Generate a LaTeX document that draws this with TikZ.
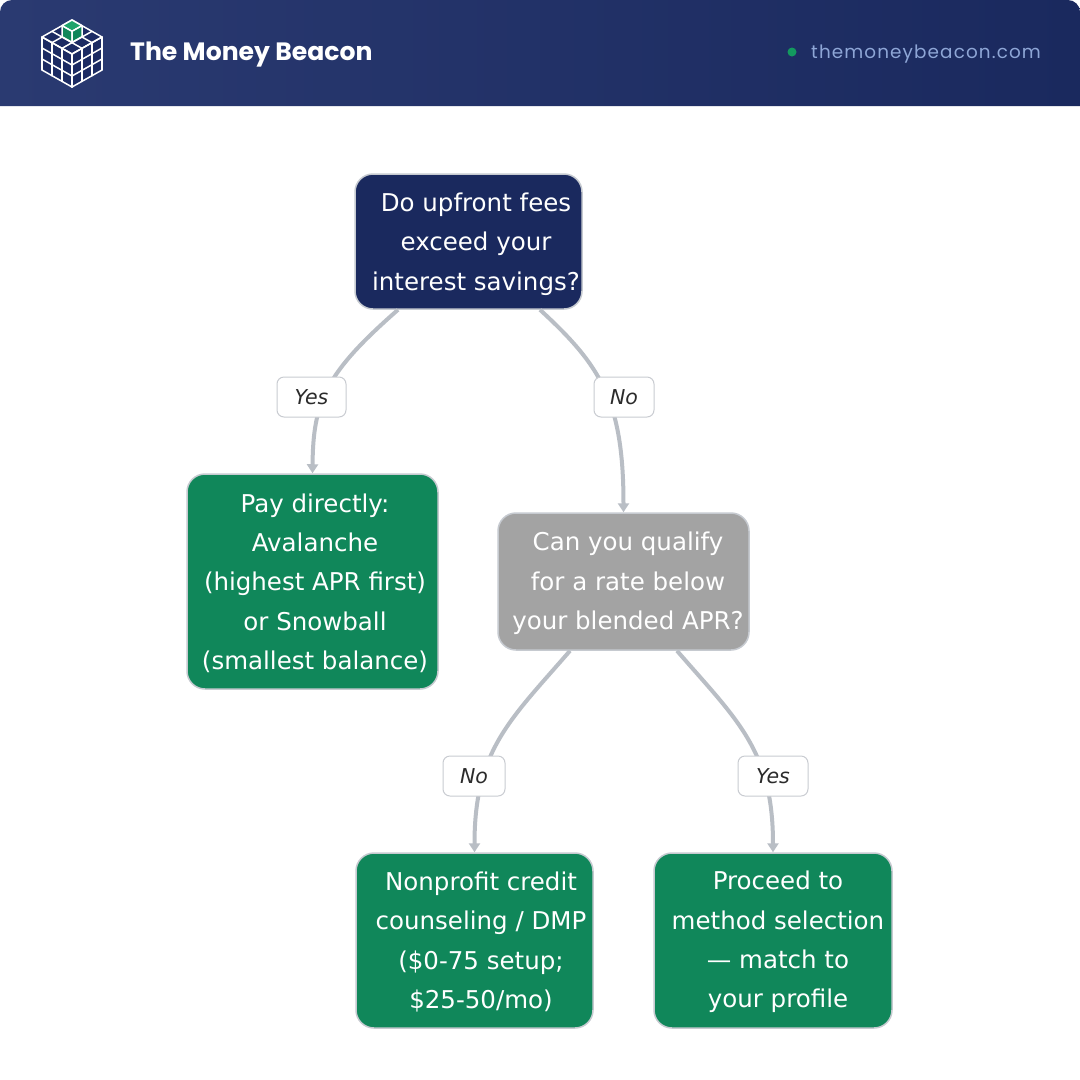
\documentclass[tikz,border=0pt]{standalone}
\usepackage{fontspec}
\setmainfont{DejaVu Sans}
\newfontfamily\titlefont{Poppins}
\newfontfamily\urlfont{Poppins}[LetterSpace=6]
\usetikzlibrary{arrows.meta,calc}
\definecolor{navy}{HTML}{1A295E}
\definecolor{navyL}{HTML}{2A3A71}
\definecolor{cubefill}{HTML}{1C2B63}
\definecolor{mgreen}{HTML}{10875A}
\definecolor{lgreen}{HTML}{1FA36B}
\definecolor{qgray}{HTML}{A3A3A3}
\definecolor{boxborder}{HTML}{C6CAD0}
\definecolor{conncol}{HTML}{B9BEC5}
\definecolor{lblborder}{HTML}{C9CCD1}
\definecolor{lbltext}{HTML}{2B2B2B}
\definecolor{urlcol}{HTML}{8EA6D6}
\definecolor{dotgreen}{HTML}{13995F}
\begin{document}
\begin{tikzpicture}[x=1pt,y=-1pt,
  box/.style={draw=boxborder, line width=1.5pt, rounded corners=18pt, inner sep=0pt},
  txt/.style={text=white, align=center, inner sep=0pt, font=\fontsize{24.5}{39.3}\selectfont},
  lbl/.style={draw=lblborder, fill=white, rounded corners=7pt, line width=1pt, minimum height=40pt, inner sep=0pt, text=lbltext, font=\itshape\fontsize{20.5}{24}\selectfont},
  conn/.style={draw=conncol, line width=4pt, -{Triangle[length=9pt,width=11pt]}},
  grid/.style={draw=white, line width=1.5pt, line cap=round, line join=round}
]
\useasboundingbox (0,0) rectangle (1080,1080);
\fill[white] (0,0) rectangle (1080,1080);

% header
\shade[left color=navyL, right color=navy, rounded corners=12pt] (0,106) -- (0,0) -- (1080,0) -- (1080,106);

% logo cube
\coordinate (T) at (72,20);
\coordinate (UL) at (42,37);
\coordinate (UR) at (102,37);
\coordinate (C) at (72,54);
\coordinate (LL) at (42,70);
\coordinate (LR) at (102,70);
\coordinate (B) at (72,87);
\fill[cubefill] (T) -- (UR) -- (LR) -- (B) -- (LL) -- (UL) -- cycle;
\foreach \i in {0,1,2,3}{
  \draw[grid] ($(T)+\i/3*(-30,17)$) -- ++(30,17);
  \draw[grid] ($(T)+\i/3*(30,17)$) -- ++(-30,17);
  \draw[grid] ($(UL)+\i/3*(30,17)$) -- ++(0,33);
  \draw[grid] ($(UL)+\i/3*(0,33)$) -- ++(30,17);
  \draw[grid] ($(C)+\i/3*(30,-17)$) -- ++(0,33);
  \draw[grid] ($(C)+\i/3*(0,33)$) -- ++(30,-17);
}
\filldraw[fill=lgreen, grid] (72,20) -- (62,25.67) -- (72,31.33) -- (82,25.67) -- cycle;
\filldraw[fill=mgreen, grid] (62,25.67) -- (72,31.33) -- (72,42.33) -- (62,36.67) -- cycle;
\filldraw[fill=mgreen, grid] (72,31.33) -- (82,25.67) -- (82,36.67) -- (72,42.33) -- cycle;

\node[anchor=base west, inner sep=0pt, text=white, font=\titlefont\bfseries\fontsize{25.1}{29}\selectfont] (title) at (130,60) {The Money Beacon};
\fill[dotgreen] (792,52) circle[radius=4.5];
\node[anchor=base west, inner sep=0pt, text=urlcol, font=\urlfont\fontsize{18.4}{22}\selectfont] (url) at (811,58) {themoneybeacon.com};

% boxes
\node[box, fill=navy, minimum width=227pt, minimum height=135pt] (q1) at (468.5,241.5) {};
\node[box, fill=mgreen, minimum width=251pt, minimum height=215pt] (pay) at (312.5,581.5) {};
\node[box, fill=qgray, minimum width=251pt, minimum height=137pt] (q2) at (623.5,581.5) {};
\node[box, fill=mgreen, minimum width=237pt, minimum height=175pt] (np) at (474.5,940.5) {};
\node[box, fill=mgreen, minimum width=238pt, minimum height=175pt] (pr) at (773,940.5) {};

\node[txt] (q1t) at (476,244) {Do upfront fees\\exceed your\\interest savings?};
\node[txt] (payt) at (315,583) {Pay directly:\\Avalanche\\(highest APR first)\\or Snowball\\(smallest balance)};
\node[txt] (q2t) at (628,583.5) {Can you qualify\\for a rate below\\your blended APR?};
\node[txt] (npt) at (481,942) {Nonprofit credit\\counseling / DMP\\(\$0-75 setup;\\\$25-50/mo)};
\node[txt] (prt) at (778,942) {Proceed to\\method selection\\— match to\\your profile};

% connectors
\draw[conn] ($(q1.south)+(-70.5,0)$) .. controls (327,372) and (313,400) .. (pay.north);
\draw[conn] ($(q1.south)+(71.5,0)$) .. controls (600,365) and (623.5,400) .. (q2.north);
\draw[conn] ($(q2.south)+(-53.5,0)$) .. controls (510,720) and (474.5,750) .. (np.north);
\draw[conn] ($(q2.south)+(53.5,0)$) .. controls (737,720) and (773,750) .. (pr.north);

% labels
\node[lbl, minimum width=69pt] (l1) at (311.5,397) {Yes};
\node[lbl, minimum width=60pt] (l2) at (624,397) {No};
\node[lbl, minimum width=62pt] (l3) at (474,776) {No};
\node[lbl, minimum width=70pt] (l4) at (773,776) {Yes};
\end{tikzpicture}
\end{document}
